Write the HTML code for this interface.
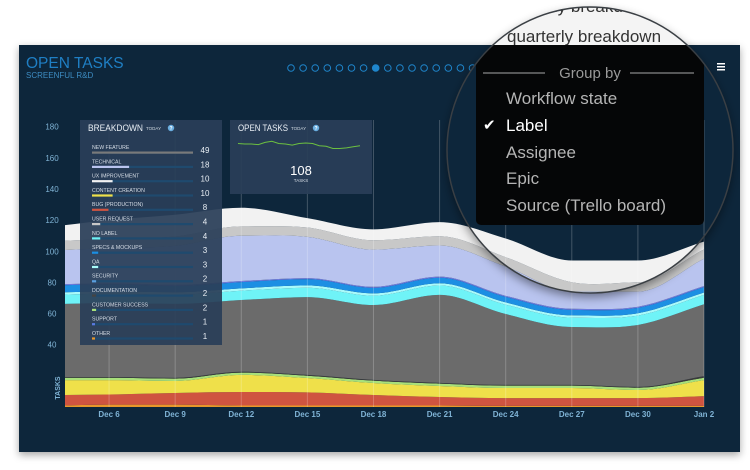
<!DOCTYPE html>
<html><head><meta charset="utf-8"><style>
html,body{margin:0;padding:0;background:#fff;width:750px;height:470px;overflow:hidden;font-family:"Liberation Sans",sans-serif}
svg{position:absolute;left:0;top:0}
</style></head><body>
<svg id="s" width="750" height="470" viewBox="0 0 750 470">
<defs>
<filter id="sh" x="-5%" y="-5%" width="110%" height="115%"><feDropShadow dx="0" dy="3" stdDeviation="4" flood-color="#000" flood-opacity="0.35"/></filter>
<filter id="csh" x="-20%" y="-20%" width="140%" height="140%"><feDropShadow dx="0" dy="4" stdDeviation="5" flood-color="#000" flood-opacity="0.45"/></filter>
<clipPath id="circ"><circle cx="590" cy="150" r="143"/></clipPath>
</defs>
<rect x="19" y="45" width="721" height="407" fill="#10283a" filter="url(#sh)"/>
<text x="26" y="68" font-size="15.5" fill="#1f7fc4">OPEN TASKS</text>
<text x="26" y="78" font-size="8" fill="#3d8cc2">SCREENFUL R&amp;D</text>
<g id="dots"></g>
<g><rect x="717" y="63" width="8" height="1.5" fill="#fff"/><rect x="717" y="66" width="8" height="1.5" fill="#fff"/><rect x="717" y="69" width="8" height="1.5" fill="#fff"/></g>
<g id="chart"></g>
<g id="panels"></g>
<g>
<circle cx="590" cy="150" r="143" fill="#10283a" filter="url(#csh)"/>
<g clip-path="url(#circ)">
<rect x="440" y="0" width="310" height="45" fill="#f4f4f4"/>
<use href="#chart"/>
<text x="500" y="12" font-size="17" fill="#333">quarterly breakdown</text>
<text x="507" y="42" font-size="17" fill="#333">quarterly breakdown</text>
<rect x="476" y="45" width="228" height="180" rx="5" fill="#050607"/>
<line x1="483" y1="73" x2="545" y2="73" stroke="#888" stroke-width="1.2"/>
<text x="590" y="78" font-size="15" fill="#9a9a9a" text-anchor="middle">Group by</text>
<line x1="630" y1="73" x2="694" y2="73" stroke="#888" stroke-width="1.2"/>
<text x="506" y="104" font-size="17" fill="#b5b5b5">Workflow state</text>
<text x="483" y="130" font-size="15" fill="#fff">✔</text>
<text x="506" y="131" font-size="17" fill="#fff">Label</text>
<text x="506" y="158" font-size="17" fill="#b5b5b5">Assignee</text>
<text x="506" y="184" font-size="17" fill="#b5b5b5">Epic</text>
<text x="506" y="211" font-size="17" fill="#b5b5b5">Source (Trello board)</text>
</g>
<circle cx="590" cy="150" r="143" fill="none" stroke="#3a3f44" stroke-width="1.5"/>
</g>
</svg>
<script>
// ---- chart data ----
const dayOffsets = [0,2,5,8,11,14,17,20,23,26,29];
const tickLabels = ["Dec 6","Dec 9","Dec 12","Dec 15","Dec 18","Dec 21","Dec 24","Dec 27","Dec 30","Jan 2"];
const tickDays = [2,5,8,11,14,17,20,23,26,29];
const yTicks = [40,60,80,100,120,140,160,180];
const seriesNames = ["other","bug","content","customer-success","documentation","new-feature","qa","no-label","specs","support","technical","user-request","ux-improvement"];
const otherVals = [1,1.5,1.5,1,1,1,1,0.7,0.7,0.7,0.7];
const bugVals = [6.7,6.5,7.5,8.6,8.4,6.7,5.4,5,5,5,6.3];
const contentVals = [9.6,9.3,7.7,11,9.2,7.7,7.1,6.5,6.5,5.2,10.3];
const custVals = [1.5,1.5,1.5,1.5,1.5,1.5,1.5,1.5,1.5,1.5,1.5];
const docVals = [0.5,0.5,0.5,0.5,0.5,0.5,0.5,0.5,0.5,0.5,1];
const featureVals = [46.9,47.5,47.5,46.1,50,48.1,56.5,45.5,37.2,39.8,46.2];
const qaVals = [6,6,6,6,6,6,6,6,6,6,6];
const noLabelVals = [1.5,1.5,1.5,1.5,1.5,1.5,1.5,1.5,1.5,1.5,1.5];
const specsVals = [4.5,4.5,4,4,4,3.5,3.5,3.5,3.5,3.5,3.5];
const supportVals = [0.7,0.7,0.7,0.7,0.7,0.7,0.7,0.7,0.7,0.7,0.7];
const technicalVals = [21.9,22.6,25.1,29.1,26.5,23.9,20,18.8,11,9.7,17.5];
const userReqVals = [6,6,6,6,6,6,6,6,6,6,6];
const uxVals = [10,12,14,12,6,7,9,12,14,14,5];
const seriesColors = ["#e8972a","#cf5440","#efe04a","#a8e07a","#3a3a3a","#6b6b6b","#6ff3f7","#a9fafa","#1c8fe3","#6a7ae0","#b9c4ef","#c8c8c8","#f2f2f2"];
const sparkVals = [117,116,116,115,119,121,117,116,114,117,118,117,113,112,108,108,109,111,113];
const breakdownLabels = ["NEW FEATURE","TECHNICAL","UX IMPROVEMENT","CONTENT CREATION","BUG (PRODUCTION)","USER REQUEST","NO LABEL","SPECS & MOCKUPS","QA","SECURITY","DOCUMENTATION","CUSTOMER SUCCESS","SUPPORT","OTHER"];
const breakdownVals = [49,18,10,10,8,4,4,3,3,2,2,2,1,1];
const breakdownColors = ["#7a7a7a","#b9c4ef","#f2f2f2","#efe04a","#cf5440","#c8c8c8","#6ff3f7","#1c8fe3","#a9fafa","#5aa0e0","#444","#a8e07a","#5a7ae0","#e8972a"];
const openToday = 108;

const NS="http://www.w3.org/2000/svg";
function mk(tag,attrs,parent){const e=document.createElementNS(NS,tag);for(const k in attrs)e.setAttribute(k,attrs[k]);if(parent)parent.appendChild(e);return e;}
const X0=65,X1=704,Y0=407,PX=1.557;
const xs=d=>X0+d*(X1-X0)/29;
const ys=v=>Y0-v*PX;

function mono(pts){
  const n=pts.length,dx=[],m=[],t=[];
  for(let i=0;i<n-1;i++){dx[i]=pts[i+1][0]-pts[i][0];m[i]=(pts[i+1][1]-pts[i][1])/dx[i];}
  t[0]=m[0];t[n-1]=m[n-2];
  for(let i=1;i<n-1;i++){t[i]=(m[i-1]*m[i]<=0)?0:(m[i-1]+m[i])/2;}
  let d="";
  for(let i=0;i<n-1;i++){
    const h=dx[i]/3;
    d+=` C${pts[i][0]+h},${pts[i][1]+t[i]*h} ${pts[i+1][0]-h},${pts[i+1][1]-t[i+1]*h} ${pts[i+1][0]},${pts[i+1][1]}`;
  }
  return d;
}
const chart=document.getElementById('chart');
const allSeries=[otherVals,bugVals,contentVals,custVals,docVals,featureVals,qaVals,noLabelVals,specsVals,supportVals,technicalVals,userReqVals,uxVals];
let base=dayOffsets.map(()=>0);
allSeries.forEach((vals,si)=>{
  const top=base.map((b,i)=>b+vals[i]);
  const tp=dayOffsets.map((d,i)=>[xs(d),ys(top[i])]);
  const bp=dayOffsets.map((d,i)=>[xs(d),ys(base[i])]).reverse();
  let d=`M${tp[0][0]},${tp[0][1]}`+mono(tp)+` L${bp[0][0]},${bp[0][1]}`;
  const bm=mono(bp.map(p=>[-p[0],p[1]])).replace(/(-?\d+\.?\d*),(-?\d+\.?\d*)/g,(s,a,b)=>`${-a},${b}`);
  d+=bm+"Z";
  const p=mk('path',{d:d,fill:seriesColors[si]},chart);
  
  
  base=top;
});
tickDays.forEach((d,i)=>{
  const l=mk('line',{x1:xs(d),x2:xs(d),y1:120,y2:Y0,stroke:"rgba(255,255,255,0.22)","stroke-width":1},chart);
  
  
  const t=mk('text',{x:xs(d),y:417,"font-size":8,fill:"#7fb3d5","text-anchor":"middle","font-weight":"bold"},chart);
  t.textContent=tickLabels[i];
  
  
});
yTicks.forEach(v=>{
  const t=mk('text',{x:52,y:ys(v)+3,"font-size":8,fill:"#7fb3d5","text-anchor":"middle"},chart);
  t.textContent=v;
  
  
});
const yt=mk('text',{x:0,y:0,"font-size":7,fill:"#7fb3d5","text-anchor":"middle","font-weight":"bold",transform:"translate(60,388) rotate(-90)"},chart);
yt.textContent="TASKS";



const dots=document.getElementById('dots');
for(let i=0;i<16;i++){
  const c=mk('circle',{cx:291+i*12.1,cy:68,r:3.3,fill:i===7?"#1f86cc":"none",stroke:"#1f86cc","stroke-width":1},dots);
  
  
}

const panels=document.getElementById('panels');
const bp=mk('g',{},panels);


mk('rect',{x:80,y:120,width:142,height:225,fill:"rgba(42,62,88,0.93)"},bp);
const bt=mk('text',{x:88,y:131,"font-size":9,fill:"#e8eef4",textLength:55,lengthAdjust:"spacingAndGlyphs"},bp);bt.textContent="BREAKDOWN";
const bt2=mk('text',{x:146,y:130,"font-size":4.5,fill:"#cfd8e0"},bp);bt2.textContent="TODAY";
mk('circle',{cx:171,cy:128,r:3.2,fill:"#6aaee0"},bp);
const q1=mk('text',{x:171,y:130,"font-size":5,fill:"#fff","text-anchor":"middle","font-weight":"bold"},bp);q1.textContent="?";
breakdownLabels.forEach((lab,i)=>{
  const y=147+i*14.3;
  const g=mk('g',{},bp);
  
  
  const t=mk('text',{x:92,y:y+2,"font-size":5.2,fill:"#d6dde6"},g);t.textContent=lab;
  mk('rect',{x:92,y:y+4.5,width:101,height:2.2,fill:"#1f4a6e"},g);
  mk('rect',{x:92,y:y+4.5,width:Math.max(3,breakdownVals[i]/49*101),height:2.2,fill:breakdownColors[i]},g);
  const v=mk('text',{x:205,y:y+6,"font-size":8,fill:"#e8eef4","text-anchor":"middle"},g);v.textContent=breakdownVals[i];
});
const op=mk('g',{},panels);


mk('rect',{x:230,y:120,width:142,height:74,fill:"rgba(42,62,88,0.93)"},op);
const ot=mk('text',{x:238,y:131,"font-size":9,fill:"#e8eef4",textLength:50,lengthAdjust:"spacingAndGlyphs"},op);ot.textContent="OPEN TASKS";
const ot2=mk('text',{x:291,y:130,"font-size":4.5,fill:"#cfd8e0"},op);ot2.textContent="TODAY";
mk('circle',{cx:316,cy:128,r:3.2,fill:"#6aaee0"},op);
const q2=mk('text',{x:316,y:130,"font-size":5,fill:"#fff","text-anchor":"middle","font-weight":"bold"},op);q2.textContent="?";
const sp=sparkVals.map((v,i)=>`${i?'L':'M'}${238+i*122/(sparkVals.length-1)},${143.5-(v-117)*0.55}`).join(' ');
const spl=mk('path',{d:sp,fill:"none",stroke:"#6cc040","stroke-width":1},op);


const big=mk('text',{x:301,y:175,"font-size":13,fill:"#fff","text-anchor":"middle"},op);big.textContent=openToday;
const tk=mk('text',{x:301,y:182,"font-size":4.5,fill:"#d6dde6","text-anchor":"middle"},op);tk.textContent="TASKS";
</script>
</body></html>
